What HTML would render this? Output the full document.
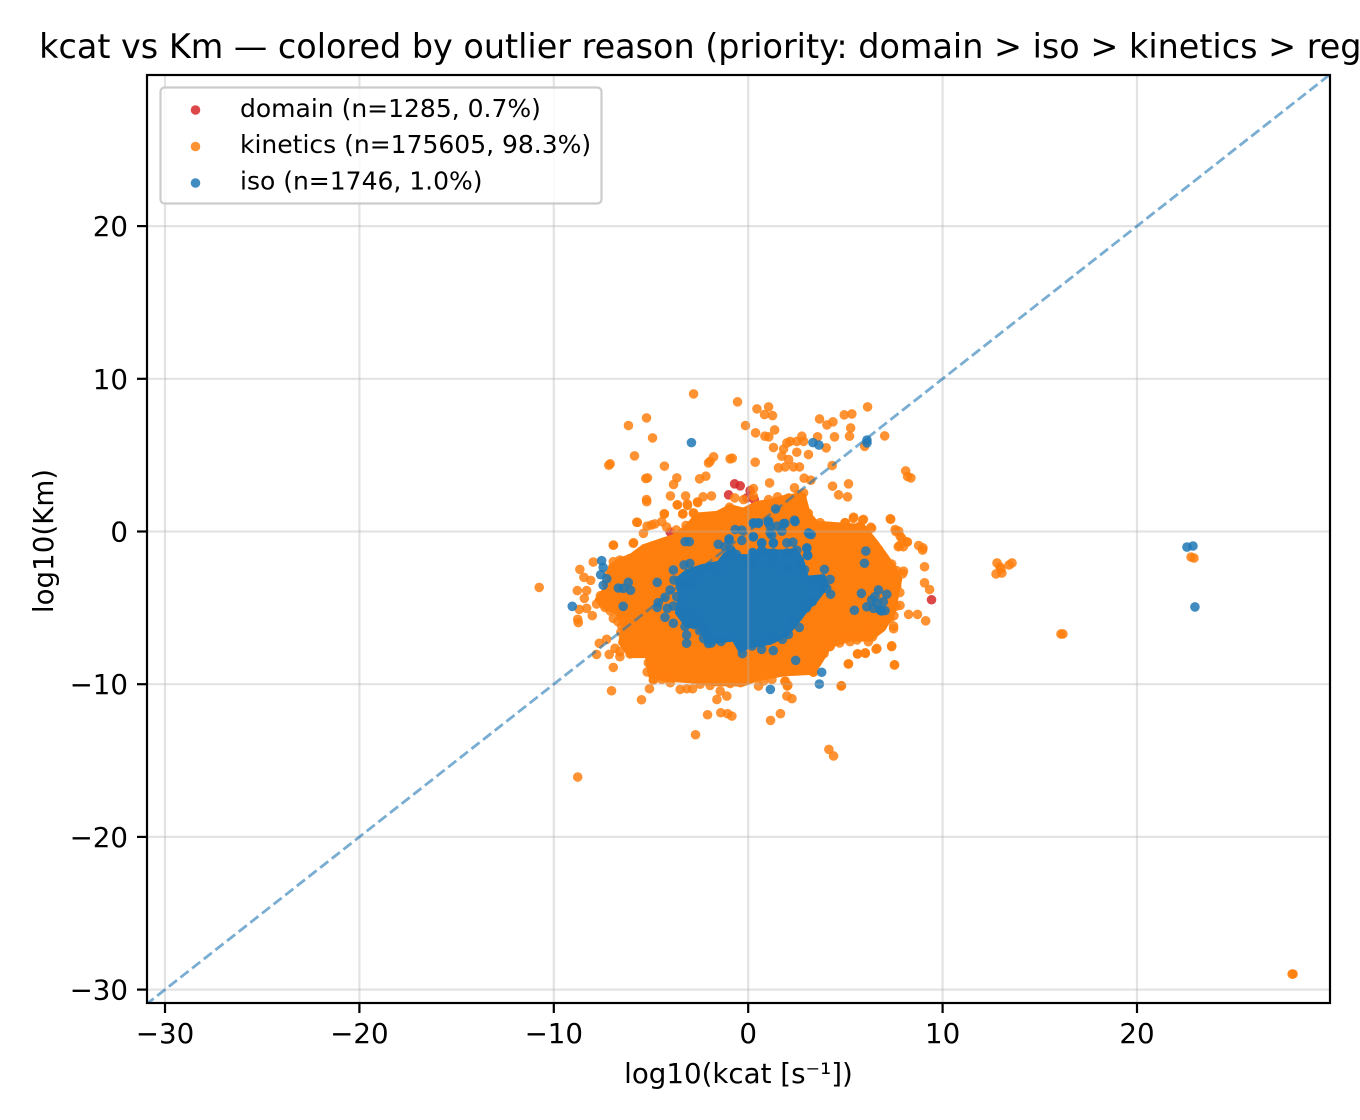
<!DOCTYPE html>
<html>
<head>
<meta charset="utf-8">
<title>kcat vs Km</title>
<style>
html,body{margin:0;padding:0;background:#fff;width:1360px;height:1120px;overflow:hidden}
svg{display:block}
text{font-family:"DejaVu Sans","Liberation Sans",sans-serif;fill:#000}
</style>
</head>
<body>
<svg id="chart" xmlns="http://www.w3.org/2000/svg" width="1360" height="1120" viewBox="0 0 1360 1120">
<rect x="0" y="0" width="1360" height="1120" fill="#fff"/>
<text x="741" y="58" text-anchor="middle" font-size="33.42">kcat vs Km — colored by outlier reason (priority: domain &gt; iso &gt; kinetics &gt; regress)</text>
<defs><clipPath id="plotClip"><rect x="147" y="75" width="1183" height="928"/></clipPath></defs>
<g id="marks" clip-path="url(#plotClip)"></g>
<g id="axes"></g>
<rect x="147" y="75" width="1183" height="928" fill="none" stroke="#000" stroke-width="2.2"/>
<text x="738.5" y="1083" text-anchor="middle" font-size="27.7">log10(kcat [s⁻¹])</text>
<text x="0" y="0" text-anchor="middle" font-size="27.7" transform="translate(53,541) rotate(-90)">log10(Km)</text>
<g>
<rect x="160.5" y="87.5" width="441" height="116" rx="4" ry="4" fill="#fff" fill-opacity="0.8" stroke="#cccccc" stroke-width="2.2"/>
<g>
<circle cx="195.5" cy="110" r="4.8" fill="#d62728" fill-opacity="0.85"/>
<text x="240" y="117" font-size="25">domain (n=1285, 0.7%)</text>
</g>
<g>
<circle cx="195.5" cy="146.5" r="4.8" fill="#ff7f0e" fill-opacity="0.85"/>
<text x="240" y="153" font-size="25">kinetics (n=175605, 98.3%)</text>
</g>
<g>
<circle cx="195.5" cy="183" r="4.8" fill="#1f77b4" fill-opacity="0.85"/>
<text x="240" y="189.5" font-size="25">iso (n=1746, 1.0%)</text>
</g>
</g>
</svg>
<script>
const xTicks = [-30, -20, -10, 0, 10, 20];
const yTicks = [-30, -20, -10, 0, 10, 20];
const diagonalLine = [-31, 30];

const domainPoints = [[-0.7,3.12],[-0.41,2.99],[-1.01,2.4],[-0.07,2.2],[0.1,2.68],[0.31,2.09],[9.43,-4.47],[3.28,-7.64],[-4.01,-0.04],[2.85,1.66],[1.82,1.33],[6.62,-1.83]];

const kineticsDenseRegion = [[-7.1,-2.27],[-6.59,-1.83],[-6.07,-1.61],[-5.39,-0.96],[-4.87,-0.74],[-4.36,-0.52],[-3.84,-0.31],[-3.16,0.35],[-2.64,1.11],[-1.61,1.22],[-0.93,1.66],[-0.24,1.44],[0.45,1.88],[1.13,1.99],[1.99,2.31],[2.85,2.42],[3.1,1.22],[3.53,0.57],[5.93,0.35],[6.62,-0.74],[7.48,-2.27],[7.82,-3.14],[7.65,-4.23],[7.48,-5.32],[6.96,-6.41],[6.28,-7.07],[5.25,-7.07],[4.22,-7.5],[3.7,-8.6],[3.36,-9.25],[1.82,-9.36],[0.45,-9.69],[-0.24,-10.01],[-1.61,-10.01],[-3.16,-9.79],[-4.36,-9.69],[-5.04,-9.47],[-5.21,-8.16],[-6.07,-8.16],[-6.59,-7.29],[-6.42,-6.2],[-6.76,-5.32],[-7.53,-4.89],[-7.79,-4.45],[-7.27,-3.58]];

const kineticsPoints = [
[-2.81,9.01],[-0.55,8.49],[0.45,8.03],[1.05,8.16],[0.84,7.66],[1.25,7.59],[-5.23,7.44],[-6.16,6.94],[-0.14,6.94],[3.67,7.37],[4.05,6.98],[4.36,7.18],[4.94,7.64],[5.33,7.7],[6.14,8.16],[5.27,6.78],[5.21,6.24],[4.44,6.2],[7.02,6.26],[0.38,6.46],[0.86,6.24],[1.06,6.2],[1.36,6.65],[-4.92,6.13],[-5.85,4.95],[-7.1,4.43],[-7.17,4.34],[-4.31,4.28],[-2.04,4.49],[-1.96,4.6],[-1.78,4.89],[-0.93,4.76],[-0.82,4.8],[0.36,4.54],
[1.3,5.5],[1.82,5.4],[2.16,5.9],[2.5,5.9],[2.85,5.9],[1.99,5.8],[1.73,4.93],[2.08,4.71],[1.56,4.17],[1.9,4.23],[2.33,4.23],[2.64,4.23],[2.76,6.24],[3.57,6.2],[4.01,5.48],[3.1,5.04],[2.5,5.19],[4.32,4.32],[5.99,5.58],[8.1,3.97],[8.37,3.51],[8.2,3.6],[-5.27,3.47],[-5.18,3.51],[-3.67,3.51],[-3.84,3.08],[-2.5,3.45],[-2.18,3.62],[1.1,3.18],[2.38,2.86],[2.88,3.49],[3.22,3.36],[4.34,2.97],[5.16,3.12],[4.65,2.4],[5.11,2.27],[-5.23,2.09],
[-4.0,2.33],[-3.22,2.33],[-2.32,2.27],[-1.89,2.33],[-3.64,1.75],[-3.12,1.7],[-2.61,1.94],[-4.31,1.16],[-3.36,1.16],[-2.81,1.22],[-0.96,1.59],[-0.69,2.2],[-0.24,2.09],[0.27,2.81],[0.27,2.31],[1.05,2.09],[1.51,2.27],[2.08,2.2],[2.59,2.42],[2.76,2.2],[2.85,2.53],[3.02,1.22],[3.09,1.19],
[5.42,0.94],[5.93,0.79],[4.99,0.57],[7.31,0.83],[6.31,0.28],[5.76,0.35],[7.56,0.13],[7.74,0.02],[7.82,-0.31],[8.16,-0.68],[7.79,-0.92],[8.77,-0.92],[8.99,-1.07],[8.97,-1.22],[9.07,-2.31],[9.07,-3.36],[9.33,-3.8],[7.99,-2.6],[7.94,-2.77],[8.25,-5.43],[8.71,-5.43],[9.13,-5.85],[7.48,-6.2],[7.48,-6.37],[7.33,0.8],[7.6,-0.01],[7.9,-0.45],[8.19,-0.69],[7.98,-1.0],[7.72,-1.0],[7.81,-4.84],[7.5,-5.51],[7.38,-7.54],[7.52,-8.74],[6.58,-7.71],[6.03,-7.98],[5.62,-8.02],[5.15,-8.68],[4.78,-10.12],[7.64,-2.56],[7.64,-3.61],[7.38,-2.13],[6.87,-1.87],[6.7,-1.17],[6.35,0.21],[5.89,0.75],[5.41,0.86],[4.98,0.58],[5.72,0.32],[3.7,0.58],[6.18,-7.22],[5.24,-7.22],[5.07,-6.89],[5.58,-6.67],[6.1,-6.67],[6.5,-6.3],[4.55,-6.89],[4.21,-7.54],[2.8,-9.02],[3.35,-9.22],[1.89,-9.83],[2.01,-10.12],
[-10.75,-3.66],[-8.66,-2.48],[-8.45,-3.0],[-8.1,-3.2],[-7.97,-2.0],[-8.79,-3.87],[-8.31,-3.87],[-8.43,-4.38],[-8.69,-5.1],[-8.31,-5.03],[-8.02,-5.51],[-8.77,-5.75],[-8.74,-5.97],[-7.8,-4.75],[-7.32,-4.49],[-7.37,-4.97],[-6.94,-0.9],[-6.94,-5.69],[-6.51,-6.17],[-7.66,-7.32],[-7.28,-7.06],[-7.8,-8.05],[-7.15,-8.05],[-6.94,-8.9],[-6.85,-7.65],[-6.6,-7.87],[-6.6,-8.2],[-6.25,-6.93],[-6.08,-8.02],[-5.65,-7.94],[-5.14,-8.6],[-4.97,-9.07],[-4.88,-9.73],[-5.7,0.6],[-5.31,-1.21],[-5.91,-0.77],[-5.39,-0.12],[-4.97,0.43],[-4.45,0.64],[-4.32,1.15],[-5.22,1.95],[-3.65,1.74],[-3.37,1.15],[-3.13,1.8],[-2.82,1.19],[-2.6,1.89],[-6.6,-1.87],[-6.08,-1.76],[-6.94,-1.98],[-7.03,-2.63],[-5.73,0.61],[-5.2,0.35],[-4.8,0.5],[-5.9,-0.74],[-6.93,-0.89],[-4.2,0.3],[-3.7,0.1],[-3.2,0.4],
[7.53,-8.73],[5.16,-8.66],[7.38,-7.48],[6.62,-7.66],[6.02,-7.94],[5.63,-8.01],[4.8,-10.1],[4.15,-14.27],[4.39,-14.7],[1.15,-12.37],[1.66,-11.93],[-2.71,-13.31],[-2.09,-12.0],[-1.41,-11.87],[-1.06,-11.93],[-0.84,-12.09],[-1.61,-11.0],[-1.1,-10.78],[-1.44,-10.45],[-5.49,-11.02],[-7.03,-10.43],[-5.08,-10.3],[1.99,-10.78],[2.25,-10.95],[1.9,-9.79],[2.04,-10.06],[0.53,-10.12],[-8.77,-16.08],[-3.5,-10.34],[-3.16,-10.3],[-2.86,-10.3],[-4.01,-9.9],[-4.44,-9.69],[-4.87,-9.69],[-2.47,-10.0],[-1.96,-10.08],[-0.93,-9.95],[0.79,-9.79],[1.22,-9.69],[2.85,-8.99],[3.36,-9.2],[3.53,-8.6],[3.45,-8.16],[3.7,-7.72],[4.22,-7.5],[-0.4,-9.9],[-3.8,-9.55],[-5.2,-9.2],
[-5.9,-7.9],[-6.3,-7.4],[-6.55,-6.6],[-6.7,-5.9],[-7.1,-5.2],[-7.6,-4.2],[-7.3,-3.4],[-7.2,-2.8],[6.9,-6.2],[7.3,-5.7],[7.6,-4.9],[7.8,-4.0],[6.4,-6.9],[5.6,-7.1],[4.7,-7.3],[3.9,-8.0],
[12.8,-2.06],[12.75,-2.78],[13.05,-2.72],[12.95,-2.32],[13.0,-2.45],[13.57,-2.06],[13.42,-2.19],[16.09,-6.71],[16.19,-6.71],[22.78,-1.67],[22.93,-1.74],[27.98,-28.98],[28.03,-28.98]
];

const isoDenseRegion = [[-3.67,-3.14],[-3.16,-2.6],[-2.38,-2.27],[-1.53,-2.05],[-1.2,-1.5],[-0.75,-1.2],[-0.5,-1.61],[0.1,-1.61],[0.62,-1.2],[1.3,-1.29],[1.99,-1.3],[2.42,-1.2],[2.76,-1.83],[3.02,-3.03],[3.88,-2.92],[4.05,-3.58],[3.53,-4.45],[3.02,-5.1],[2.5,-5.98],[1.99,-6.74],[1.13,-7.29],[0.1,-7.5],[-0.41,-7.83],[-0.75,-7.07],[-1.44,-7.18],[-2.13,-7.29],[-2.47,-6.2],[-3.16,-6.2],[-3.67,-5.32],[-3.5,-4.23]];

const isoPoints = [
[-2.92,5.82],[3.33,5.82],[3.64,5.66],[6.11,5.99],[6.11,5.8],[1.41,1.48],[3.78,-9.22],[3.66,-9.99],[1.14,-10.34],[-9.05,-4.9],[22.57,-1.02],[22.88,-0.95],[22.98,-4.94],
[-7.54,-1.91],[-7.46,-2.35],[-7.59,-2.83],[-7.28,-3.09],[-7.46,-3.52],[-6.17,-3.33],[-6.68,-3.7],[-6.43,-3.72],[-6.05,-3.85],[-6.43,-4.9],[-4.68,-3.33],[-4.68,-4.97],[-4.63,-4.66],[-4.28,-5.62],[-4.16,-5.03],[-4.28,-4.31],[-4.02,-3.83],[-3.68,-4.27],[-3.85,-4.88],[-3.85,-6.01],[-3.25,-0.67],[-3.03,-0.67],[-1.54,-0.84],[-0.99,-0.56],[-3.3,-2.19],[-3.0,-2.09],[-3.85,-2.52],[-3.82,-3.18],[-3.17,-7.32],[-3.17,-6.78],[-3.25,-6.23],[-2.83,-5.36],[-2.05,-7.33],[-1.97,-7.11],[-2.3,-7.0],[-3.5,-3.5],[-3.3,-5.4],[-2.8,-6.1],[-2.5,-6.5],[-2.6,-2.6],[-2.0,-2.3],[-1.6,-2.6],[-1.2,-1.0],[-1.0,-1.6],[-0.9,-1.2],
[6.05,-1.28],[5.98,-2.08],[5.82,-4.05],[5.46,-5.16],[6.7,-3.83],[7.13,-4.11],[6.95,-4.6],[7.04,-5.18],[6.78,-5.14],[6.44,-5.03],[6.1,-4.93],[6.35,-4.49],[6.52,-4.27],[6.62,-4.7],[6.85,-5.2],
[2.44,-8.44],[2.63,-6.28],[2.07,-6.74],[1.76,-7.06],[1.29,-7.8],[0.69,-7.72],[4.24,-4.11],[4.04,-3.72],[4.21,-3.13],[3.92,-2.48],[3.15,-0.16],[3.06,-1.58],[3.01,-1.1],[2.41,0.64],[1.89,0.53],[1.04,0.58],[1.21,-0.23],[1.29,-0.77],[0.26,0.53],[0.52,0.53],[0.26,-0.34],[0.69,-0.77],[0.23,-1.38],[1.26,-1.54],
[-0.67,0.13],[-0.33,0.09],[0.27,0.57],[0.53,0.57],[1.05,0.68],[1.13,0.35],[1.48,0.35],[1.82,0.52],[2.38,0.74],[1.73,0.02],[1.13,-0.09],[1.3,-0.74],[0.7,-0.74],[-0.33,-0.59],[-0.98,-0.48],[0.27,-0.35],[0.24,-1.4],[0.7,-1.22],[1.3,-1.4],[1.99,-0.74],[2.3,-0.7],[1.99,-1.4],[2.5,-1.22],[3.02,-1.07],[3.05,-1.55],[3.1,-0.09],[3.24,-0.2],
[-0.3,-7.5],[-0.3,-8.0],[0.2,-7.5],[0.7,-7.3],[1.3,-7.0],[-1.9,-7.3],[-1.4,-7.2],[-2.6,-6.0],[-2.3,-6.4],[3.4,-3.2],[3.8,-3.4],[3.3,-4.6],[3.0,-5.0],[2.3,-5.9],[-3.0,-3.4],[-2.8,-2.9],[2.9,-2.5],[2.6,-2.2],[-0.6,-1.5],[0.2,-2.0],[1.2,-2.0],[2.0,-2.4]
];

const xScaleK = 19.44;
const yScaleK = 15.27;
const xZero = 748.2;
const yZero = 531.5;
function sx(v){ return xZero + xScaleK * v; }
function sy(v){ return yZero - yScaleK * v; }

const NS = 'http://www.w3.org/2000/svg';
const marks = document.getElementById('marks');
const axes = document.getElementById('axes');

function make(tag, attrs, parent){
  const el = document.createElementNS(NS, tag);
  for (const k in attrs) el.setAttribute(k, attrs[k]);
  parent.appendChild(el);
  return el;
}

function drawPoints(list, color, name){
  list.forEach(function(p){
    const c = make('circle', {cx: sx(p[0]), cy: sy(p[1]), r: 4.8, fill: color, 'fill-opacity': 0.85}, marks);
    
    
  });
}

function drawRegion(list, color, name){
  const pts = list.map(function(p){ return sx(p[0]) + ',' + sy(p[1]); }).join(' ');
  const poly = make('polygon', {points: pts, fill: color, stroke: color, 'stroke-width': 4, 'stroke-linejoin': 'round'}, marks);
  
  
}

drawPoints(domainPoints, '#d62728', 'domain-point');
drawRegion(kineticsDenseRegion, '#ff7f0e', 'kinetics-dense-cloud');
drawPoints(kineticsPoints, '#ff7f0e', 'kinetics-point');
drawRegion(isoDenseRegion, '#1f77b4', 'iso-dense-cloud');
drawPoints(isoPoints, '#1f77b4', 'iso-point');

xTicks.forEach(function(t){
  const g = make('line', {x1: sx(t), x2: sx(t), y1: 75, y2: 1003, stroke: '#b0b0b0', 'stroke-opacity': 0.35, 'stroke-width': 2.2}, marks);
  
  
});
yTicks.forEach(function(t){
  const g = make('line', {x1: 147, x2: 1330, y1: sy(t), y2: sy(t), stroke: '#b0b0b0', 'stroke-opacity': 0.35, 'stroke-width': 2.2}, marks);
  
  
});

const diag = make('line', {x1: sx(diagonalLine[0]), y1: sy(diagonalLine[0]), x2: sx(diagonalLine[1]), y2: sy(diagonalLine[1]), stroke: '#1f77b4', 'stroke-opacity': 0.6, 'stroke-width': 2.8, 'stroke-dasharray': '10.3 4.5'}, marks);



function fmt(t){ return t < 0 ? '\u2212' + Math.abs(t) : String(t); }

xTicks.forEach(function(t){
  const m = make('line', {x1: sx(t), x2: sx(t), y1: 1003, y2: 1013, stroke: '#000', 'stroke-width': 2.2}, axes);
  
  
  const l = make('text', {x: sx(t), y: 1043, 'text-anchor': 'middle', 'font-size': 27.7}, axes);
  l.textContent = fmt(t);
  
  
});
yTicks.forEach(function(t){
  const m = make('line', {x1: 137, x2: 147, y1: sy(t), y2: sy(t), stroke: '#000', 'stroke-width': 2.2}, axes);
  
  
  const l = make('text', {x: 128, y: sy(t) + 10, 'text-anchor': 'end', 'font-size': 27.7}, axes);
  l.textContent = fmt(t);
  
  
});
</script>
</body>
</html>
